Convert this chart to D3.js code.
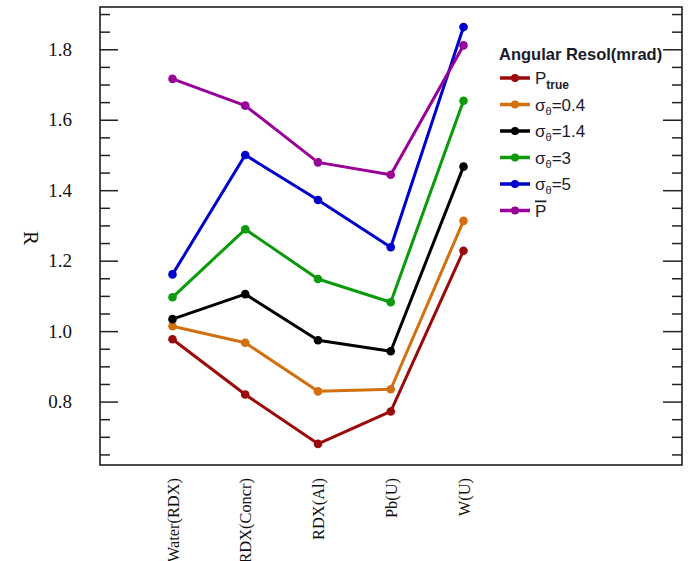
<!DOCTYPE html>
<html>
<head>
<meta charset="utf-8">
<script src="https://cdn.jsdelivr.net/npm/d3@7"></script>
<style>
  html, body { margin: 0; padding: 0; background: #fff; }
  svg { display: block; }
</style>
</head>
<body>
<svg id="chart" width="697" height="561"></svg>
<script>
// Categories along the x axis
const categories = ["Water(RDX)", "RDX(Concr)", "RDX(Al)", "Pb(U)", "W(U)"];

// R values per angular resolution setting
const pTrue   = [0.977, 0.820, 0.680, 0.772, 1.228];
const sigma04 = [1.014, 0.967, 0.829, 0.835, 1.313];
const sigma14 = [1.034, 1.105, 0.974, 0.943, 1.467];
const sigma3  = [1.096, 1.289, 1.148, 1.082, 1.654];
const sigma5  = [1.161, 1.500, 1.372, 1.238, 1.863];
const pBar    = [1.716, 1.640, 1.479, 1.444, 1.811];

// Y axis tick labels
const majorTicks = [0.8, 1.0, 1.2, 1.4, 1.6, 1.8];
const minorTicks = [0.65, 0.7, 0.75, 0.85, 0.9, 0.95, 1.05, 1.1, 1.15, 1.25, 1.3, 1.35,
                    1.45, 1.5, 1.55, 1.65, 1.7, 1.75, 1.85, 1.9];

const seriesList = [
  { key: "ptrue", values: pTrue,   color: "#9b0a0a" },
  { key: "s04",   values: sigma04, color: "#d2700f", sub: "θ", label: "=0.4" },
  { key: "s14",   values: sigma14, color: "#000000", sub: "θ", label: "=1.4" },
  { key: "s3",    values: sigma3,  color: "#0a9a0a", sub: "θ", label: "=3" },
  { key: "s5",    values: sigma5,  color: "#0000cc", sub: "θ", label: "=5" },
  { key: "pbar",  values: pBar,    color: "#980098" }
];

const svg = d3.select("#chart");
const frame = { left: 100, right: 682, top: 7, bottom: 465 };
const serif = "Liberation Serif, Times New Roman, serif";

const x = d3.scalePoint().domain(categories).range([172.5, 463.5]);
const y = d3.scaleLinear().domain([0.62, 1.92]).range([frame.bottom, frame.top]);

// Frame
svg.append("rect")
  .attr("x", frame.left).attr("y", frame.top)
  .attr("width", frame.right - frame.left).attr("height", frame.bottom - frame.top)
  .attr("fill", "none").attr("stroke", "#111").attr("stroke-width", 1.5);

// Left axis: major ticks with labels, minor ticks inward
const leftMajor = d3.axisLeft(y).tickValues(majorTicks).tickSize(-18).tickPadding(28)
  .tickFormat(d3.format(".1f"));
const leftMinor = d3.axisLeft(y).tickValues(minorTicks).tickSize(-10).tickFormat("");
const rightMajor = d3.axisRight(y).tickValues(majorTicks).tickSize(-19).tickFormat("");
const rightMinor = d3.axisRight(y).tickValues(minorTicks).tickSize(-10).tickFormat("");

function styleAxis(g) {
  g.select(".domain").remove();
  g.selectAll(".tick line").attr("stroke", "#222").attr("stroke-width", 1.5);
}

const lg = svg.append("g").attr("transform", `translate(${frame.left},0)`).call(leftMajor).call(styleAxis)
  .attr("font-family", serif);
lg.selectAll(".tick text")
  .attr("font-family", serif)
  .attr("font-size", 19).attr("fill", "#111");
svg.append("g").attr("transform", `translate(${frame.left},0)`).call(leftMinor).call(styleAxis);
svg.append("g").attr("transform", `translate(${frame.right},0)`).call(rightMajor).call(styleAxis);
svg.append("g").attr("transform", `translate(${frame.right},0)`).call(rightMinor).call(styleAxis);

// Y axis title
svg.append("text")
  .attr("transform", "translate(24,238) rotate(90)")
  .attr("text-anchor", "middle")
  .attr("font-family", serif)
  .attr("font-size", 21).attr("fill", "#111")
  .text("R");

// Category labels, rotated
const xAxis = d3.axisBottom(x).tickSize(0).tickPadding(0);
const xg = svg.append("g").attr("transform", `translate(0,${frame.bottom})`).call(xAxis)
  .attr("font-family", serif);
xg.select(".domain").remove();
xg.selectAll(".tick text")
  .attr("transform", "translate(5.5,13) rotate(-90)")
  .attr("text-anchor", "end")
  .attr("dy", 0).attr("y", 0).attr("x", 0)
  .attr("font-family", serif)
  .attr("font-size", 16.4).attr("fill", "#111");

// Series lines and markers
const line = d3.line().x((d, i) => x(categories[i])).y(d => y(d));
const sg = svg.append("g");
seriesList.forEach(s => {
  sg.append("path")
    .datum(s.values)
    .attr("d", line)
    .attr("fill", "none")
    .attr("stroke", s.color)
    .attr("stroke-width", 3)
    .attr("stroke-linejoin", "round");
  sg.selectAll(null)
    .data(s.values)
    .join("circle")
    .attr("cx", (d, i) => x(categories[i]))
    .attr("cy", d => y(d))
    .attr("r", 4.3)
    .attr("fill", s.color);
});

// Legend
const legend = svg.append("g").attr("font-family", "Liberation Sans, Arial, sans-serif");
legend.append("text")
  .attr("x", 499).attr("y", 60)
  .attr("font-size", 16.5).attr("font-weight", "bold").attr("fill", "#1a1a2a")
  .text("Angular Resol(mrad)");

seriesList.forEach((s, i) => {
  const yy = 78 + i * 26.5;
  legend.append("line")
    .attr("x1", 500).attr("x2", 530).attr("y1", yy).attr("y2", yy)
    .attr("stroke", s.color).attr("stroke-width", 3.5);
  legend.append("circle").attr("cx", 515).attr("cy", yy).attr("r", 4).attr("fill", s.color);
  const t = legend.append("text")
    .attr("x", 535).attr("y", yy + 6)
    .attr("font-size", 17).attr("fill", "#1a1a2a");
  if (s.key === "ptrue") {
    t.append("tspan").text("P");
    t.append("tspan").attr("dy", 5).attr("font-size", 12).attr("font-weight", "bold").text("true");
  } else if (s.key === "pbar") {
    t.append("tspan").attr("text-decoration", "overline").text("P");
  } else {
    t.append("tspan").text("σ");
    t.append("tspan").attr("dy", 4).attr("font-size", 11).text(s.sub);
    t.append("tspan").attr("dy", -4).text(s.label);
  }
});
</script>
</body>
</html>
